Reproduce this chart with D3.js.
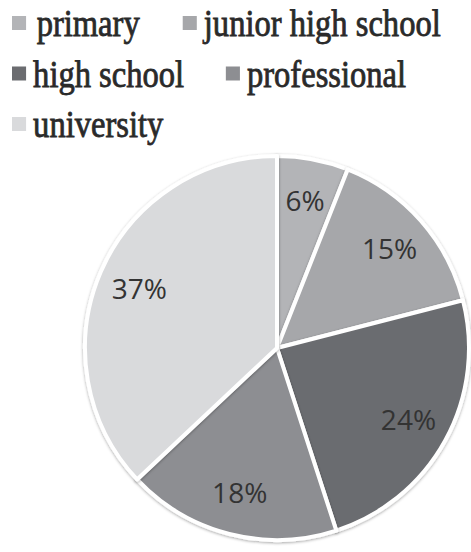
<!DOCTYPE html>
<html>
<head>
<meta charset="utf-8">
<script src="https://cdn.jsdelivr.net/npm/d3@7"></script>
<style>
  body { margin: 0; background: #fff; }
</style>
</head>
<body>
<script>
// chart size
var width = 471;
var height = 552;

var categories = ["primary", "junior high school", "high school", "professional", "university"];
var shares = [6, 15, 24, 18, 37];
var colors = ["#b3b4b7", "#a6a7aa", "#6b6c70", "#8d8e92", "#d9dadc"];

// legend rows, as laid out in the picture
var legendRows = [[0, 1], [2, 3], [4]];

var svg = d3.select("body")
  .append("svg")
  .attr("width", width)
  .attr("height", height);

// legend
var legend = svg.append("g")
  .attr("class", "legend")
  .attr("transform", "translate(12,0) scale(0.88,1)");

var colX = [0, 194];
legendRows.forEach(function(row, r) {
  row.forEach(function(idx, c) {
    var item = legend.append("g")
      .attr("transform", "translate(" + (c == 1 && r == 1 ? 243 : colX[c]) + "," + (36 + r * 50.5) + ")");
    item.append("rect")
      .attr("x", 0)
      .attr("y", -20)
      .attr("width", 16)
      .attr("height", 14)
      .attr("fill", colors[idx]);
    item.append("text")
      .attr("x", c == 0 && r == 0 ? 28 : 24)
      .attr("y", 0)
      .style("font-family", "Tinos, 'Noto Serif', FreeSerif, 'Times New Roman', Times, 'Liberation Serif', serif")
      .attr("font-size", 37)
      .attr("fill", "#2a2a2a")
      .attr("stroke", "#2a2a2a")
      .attr("stroke-width", 0.8)
      .text(categories[idx]);
  });
});

// pie
var cx = 277, cy = 348, radius = 192;

var pie = d3.pie().sort(null).value(function(d) { return d; });
var arc = d3.arc().innerRadius(0).outerRadius(radius);
var labelArc = d3.arc().innerRadius(150).outerRadius(150);

var defs = svg.append("defs");
var shadow = defs.append("filter").attr("id", "shadow")
  .attr("x", "-10%").attr("y", "-10%").attr("width", "120%").attr("height", "120%");
shadow.append("feDropShadow")
  .attr("dx", 0).attr("dy", 1).attr("stdDeviation", 1.5)
  .attr("flood-color", "#000").attr("flood-opacity", 0.35);

var g = svg.append("g")
  .attr("transform", "translate(" + cx + "," + cy + ")");

var slices = g.selectAll("g.slice")
  .data(pie(shares))
  .enter()
  .append("g")
  .attr("class", "slice");

slices.append("path")
  .attr("d", arc)
  .attr("fill", function(d, i) { return colors[i]; })
  .attr("stroke", "#fff")
  .attr("stroke-width", 4)
  .attr("stroke-linejoin", "round")
  .attr("filter", "url(#shadow)");

slices.append("text")
  .attr("transform", function(d) { return "translate(" + labelArc.centroid(d) + ")"; })
  .attr("text-anchor", "middle")
  .attr("dy", "0.36em")
  .attr("font-family", "Open Sans, sans-serif")
  .attr("font-size", 28)
  .attr("fill", "#333")
  .text(function(d) { return d.data + "%"; });
</script>
</body>
</html>
